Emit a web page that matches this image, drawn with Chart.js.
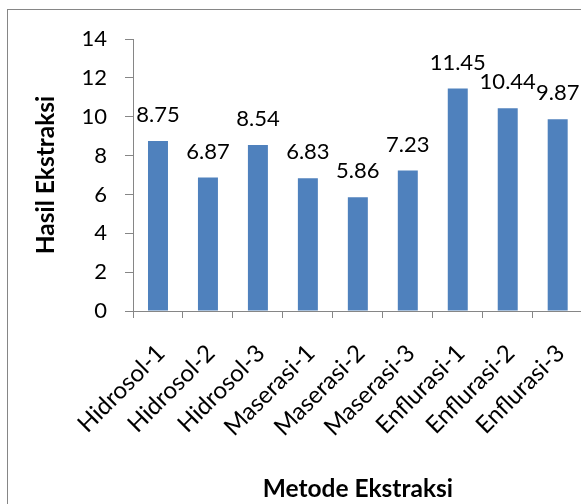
<!DOCTYPE html>
<html>
<head>
<meta charset="utf-8">
<script src="https://cdn.jsdelivr.net/npm/chart.js@4/dist/chart.umd.min.js"></script>
<style>
html, body { margin:0; padding:0; overflow:hidden; background:#fff; width:581px; height:504px; }
#frame { position:absolute; left:7px; top:9px; width:700px; height:700px; border:1px solid #868686; }
#wrap { position:absolute; left:0; top:0; }
</style>
</head>
<body>
<div id="frame"></div>
<div id="wrap"><canvas id="c" width="600" height="504"></canvas></div>
<script>
const categories = ["Hidrosol-1","Hidrosol-2","Hidrosol-3","Maserasi-1","Maserasi-2","Maserasi-3","Enflurasi-1","Enflurasi-2","Enflurasi-3"];
const values = [8.75, 6.87, 8.54, 6.83, 5.86, 7.23, 11.45, 10.44, 9.87];
const yTitle = "Hasil Ekstraksi";
const xTitle = "Metode Ekstraksi";

const FONT = "Lato, 'Open Sans', sans-serif";
const AXIS = "#868686";

const labelPlugin = {
  id: 'valueLabels',
  afterDatasetsDraw(chart) {
    const ctx = chart.ctx;
    const meta = chart.getDatasetMeta(0);
    ctx.save();
    ctx.font = "22px " + FONT;
    ctx.fillStyle = "#000";
    ctx.textAlign = "center";
    ctx.textBaseline = "alphabetic";
    meta.data.forEach((bar, i) => {
      ctx.fillText(values[i].toFixed(2), bar.x, bar.y - 19);
    });
    ctx.restore();
  }
};

new Chart(document.getElementById('c'), {
  type: 'bar',
  data: {
    labels: categories,
    datasets: [{
      data: values,
      backgroundColor: '#4F81BD',
      borderWidth: 0,
      barPercentage: 0.4,
      categoryPercentage: 1.0
    }]
  },
  options: {
    responsive: false,
    animation: false,
    devicePixelRatio: 1,
    layout: { padding: { left: 0, right: 17, top: 39, bottom: 0 } },
    plugins: { legend: { display: false }, tooltip: { enabled: false } },
    scales: {
      x: {
        offset: true,
        grid: { display: true, drawOnChartArea: false, drawTicks: true, tickLength: 7, color: AXIS, offset: true },
        border: { display: true, color: AXIS, width: 1 },
        ticks: { color: '#000', font: { family: FONT, size: 24 }, minRotation: 45, maxRotation: 45, autoSkip: false, padding: 21, labelOffset: 3 },
        title: { display: true, text: xTitle, color: '#000', font: { family: FONT, size: 24.5, weight: 'bold' }, padding: { top: -2, bottom: 0 } },
        afterFit(scale) { scale.height = 193; }
      },
      y: {
        min: 0, max: 14,
        grid: { display: true, drawOnChartArea: false, drawTicks: true, tickLength: 8, color: AXIS },
        border: { display: true, color: AXIS, width: 1 },
        ticks: { stepSize: 2, color: '#000', font: { family: FONT, size: 22 }, padding: 18 },
        title: { display: true, text: yTitle, color: '#000', font: { family: FONT, size: 24.5, weight: 'bold' }, padding: { top: 31, bottom: 0 } },
        afterFit(scale) { scale.width = 133; }
      }
    }
  },
  plugins: [labelPlugin]
});
</script>
</body>
</html>
